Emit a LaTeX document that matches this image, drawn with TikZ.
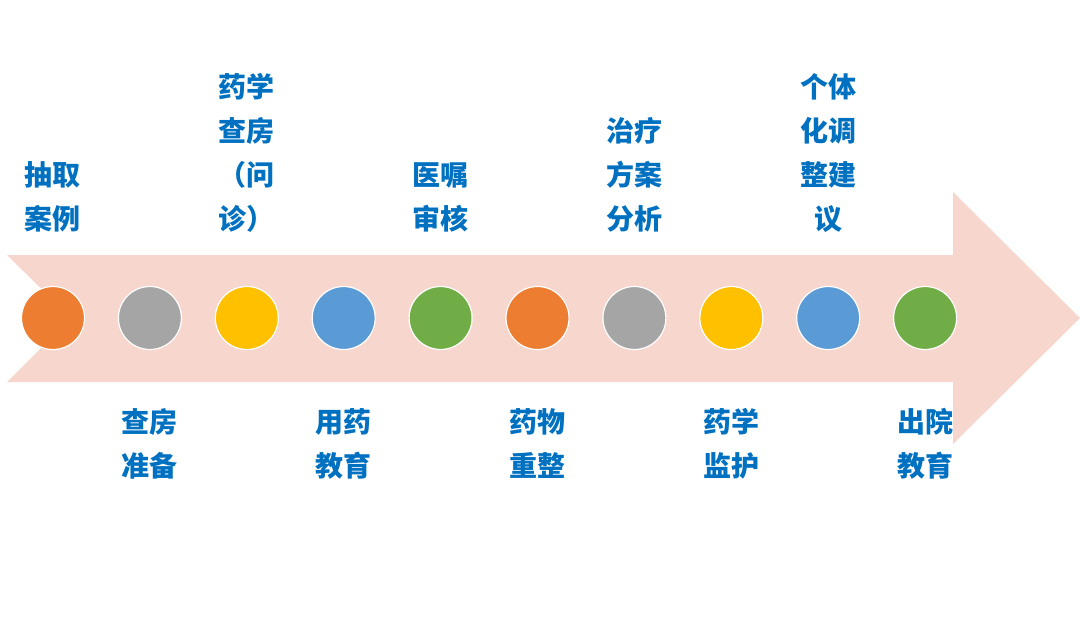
\documentclass[tikz,border=0pt]{standalone}
\usepackage{fontspec}
\newfontfamily\cjk{Noto Sans CJK SC}
\usetikzlibrary{positioning}
\definecolor{arrowpink}{HTML}{F7D6CD}
\definecolor{textblue}{HTML}{0070C0}
\definecolor{dotorange}{HTML}{ED7D31}
\definecolor{dotgray}{HTML}{A5A5A5}
\definecolor{dotyellow}{HTML}{FFC000}
\definecolor{dotblue}{HTML}{5B9BD5}
\definecolor{dotgreen}{HTML}{70AD47}
\tikzset{
  dot/.style={
    circle,
    minimum size=31.5pt,
    inner sep=0pt,
    draw=white, line width=0.6pt},
  steptext/.style={
    font=\cjk\bfseries\fontsize{14}{22}\selectfont,
    text=textblue,
    align=center,
    inner sep=0pt,
    anchor=base}
}
\begin{document}
\begin{tikzpicture}[x=0.5pt,y=-0.5pt]
    \useasboundingbox (0,0) rectangle (1080,637);

    % big arrow behind the steps
    \coordinate (A1) at (7,255);
    \coordinate (A2) at (953,255);
    \coordinate (A3) at (953,192);
    \coordinate (A4) at (1080,318);
    \coordinate (A5) at (953,444);
    \coordinate (A6) at (953,382);
    \coordinate (A7) at (7,382);
    \coordinate (A8) at (71,318);

    \fill[arrowpink] (A1) -- (A2)
                          -- (A3)
                          -- (A4)
                          -- (A5)
                          -- (A6)
                          -- (A7)
                          -- (A8) -- cycle;

    % steps (text y = baseline of the last line)
    \foreach \i/\col/\ytxt/\txt in {
        1/dotorange/229/{抽取\\案例},
        2/dotgray/476/{查房\\准备},
        3/dotyellow/229/{药学\\查房\\（问\\诊）},
        4/dotblue/476/{用药\\教育},
        5/dotgreen/229/{医嘱\\审核},
        6/dotorange/476/{药物\\重整},
        7/dotgray/229/{治疗\\方案\\分析},
        8/dotyellow/476/{药学\\监护},
        9/dotblue/229/{个体\\化调\\整建\\议},
        10/dotgreen/476/{出院\\教育}}
    {
        \pgfmathsetmacro\xc{53+96.9*(\i-1)}
        \node[dot, fill=\col] (dot\i) at (\xc,318) {};
        \node[steptext] (txt\i) at (\xc,\ytxt) {\txt};
    }
\end{tikzpicture}
\end{document}
